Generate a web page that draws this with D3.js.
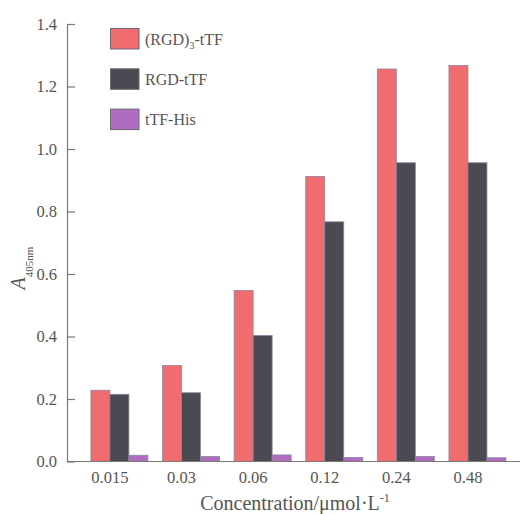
<!DOCTYPE html>
<html><head><meta charset="utf-8">
<script src="https://cdn.jsdelivr.net/npm/d3@7"></script>
<style>body{margin:0;background:#fff}</style>
</head><body>
<script>
const categories = ["0.015","0.03","0.06","0.12","0.24","0.48"];
const seriesNames = ["(RGD)3-tTF","RGD-tTF","tTF-His"];
const rgd3 = [0.228,0.307,0.547,0.912,1.256,1.267];
const rgd = [0.215,0.220,0.403,0.767,0.956,0.956];
const his = [0.020,0.016,0.021,0.013,0.016,0.012];
const yTicks = [0,0.2,0.4,0.6,0.8,1.0,1.2,1.4];
const colors = ["#f06c6e","#4b4a52","#b06cc0"];
const series = [rgd3, rgd, his];

const W=520,H=514;
const svg=d3.select("body").append("svg").attr("width",W).attr("height",H);
const font="Liberation Serif, serif";
const txt="#555";
const axisCol="#7a7a70";

const y=d3.scaleLinear().domain([0,1.4]).range([461.5,24]);
const x=d3.scaleBand().domain(categories).range([67,520]).paddingInner(0.204).paddingOuter(0.265).align(0.63);
const xi=d3.scaleBand().domain(d3.range(3)).range([0,x.bandwidth()]);

// bars
const g=svg.append("g");
categories.forEach((c,i)=>{
  series.forEach((s,j)=>{
    g.append("rect")
      .attr("x",x(c)+xi(j)).attr("width",xi.bandwidth())
      .attr("y",y(s[i])).attr("height",y(0)-y(s[i]))
      .attr("fill",colors[j]).attr("stroke","#8a86a0").attr("stroke-width",0.8);
  });
});

// y axis
const ya=svg.append("g").attr("transform","translate(67,0)")
  .call(d3.axisLeft(y).tickValues(yTicks).tickFormat(d3.format(".1f")).tickSize(-8).tickSizeOuter(0).tickPadding(10));
ya.selectAll("path,line").attr("stroke",axisCol).attr("stroke-width",1.2);
ya.selectAll("text").style("font-family",font).style("font-size","16.5px").attr("fill",txt);

// x axis line
svg.append("line").attr("x1",67).attr("x2",520).attr("y1",y(0)).attr("y2",y(0)).attr("stroke",axisCol).attr("stroke-width",1.2);
const xa=svg.append("g").attr("transform",`translate(${xi.bandwidth()-x.bandwidth()/2},${y(0)})`)
  .call(d3.axisBottom(x).tickSize(0).tickPadding(9.5));
xa.select("path").remove();
xa.selectAll("text").style("font-family",font).style("font-size","16.5px").attr("fill",txt);

// x title
const xt=svg.append("text").attr("x",295).attr("y",510).attr("text-anchor","middle")
  .style("font-family",font).style("font-size","20px").attr("fill",txt);
xt.append("tspan").text("Concentration/μmol·L");
xt.append("tspan").attr("dy",-8).style("font-size","12px").text("-1");

// y title
const yt=svg.append("text").attr("transform","translate(25,268) rotate(-90)").attr("text-anchor","middle")
  .style("font-family",font).attr("fill",txt);
yt.append("tspan").style("font-style","italic").style("font-size","20px").text("A");
yt.append("tspan").attr("dy",8).style("font-size","11px").text("405nm");

// legend
const lg=svg.append("g");
seriesNames.forEach((n,j)=>{
  const yy=28.5+j*40.3;
  lg.append("rect").attr("x",110.5).attr("y",yy).attr("width",28.5).attr("height",20.5)
    .attr("fill",colors[j]).attr("stroke","#6e6a70").attr("stroke-width",1);
  const t=lg.append("text").attr("x",145).attr("y",yy+16).style("font-family",font).style("font-size","16px").attr("fill",txt);
  if(j===0){
    t.append("tspan").text("(RGD)");
    t.append("tspan").attr("dy",4).style("font-size","10px").text("3");
    t.append("tspan").attr("dy",-4).text("-tTF");
  } else t.text(n);
});
</script>
</body></html>
